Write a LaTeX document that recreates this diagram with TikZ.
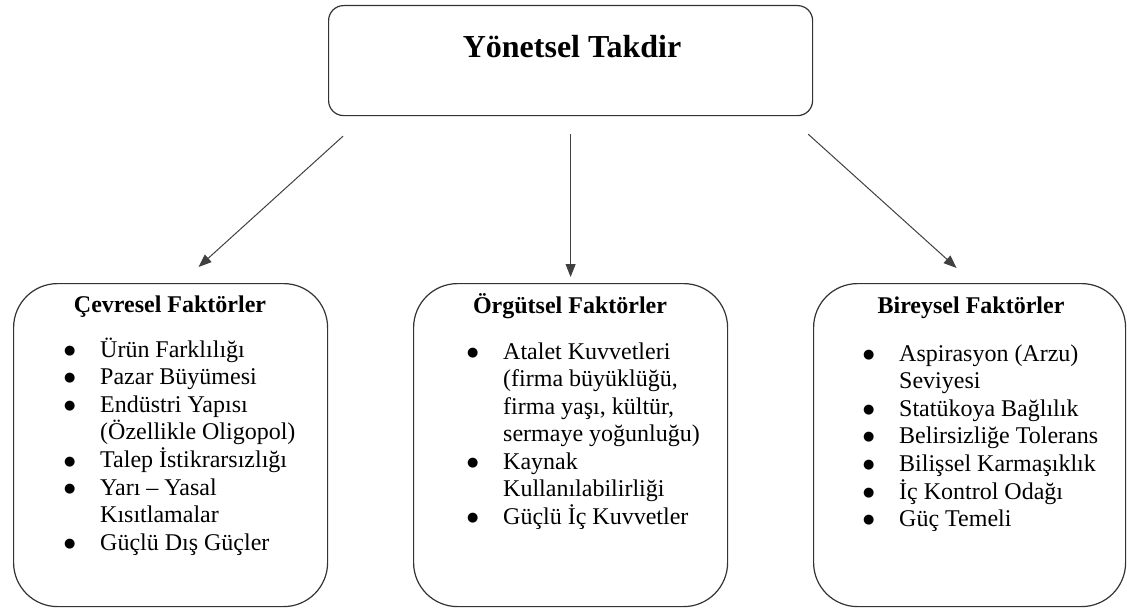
\documentclass[tikz,border=0pt]{standalone}
\usepackage{fontspec}
\setmainfont{Liberation Serif}
\newfontfamily\dvfont{DejaVu Sans}
\usetikzlibrary{arrows.meta}
\newcommand{\bul}{\raisebox{2.6pt}{\dvfont\fontsize{13}{13}\selectfont ●}}
\begin{document}
\begin{tikzpicture}[x=1pt,y=-1pt,
  bigbox/.style={draw=black!80, line width=1.2pt, rounded corners=44pt, minimum width=314pt, minimum height=323pt, anchor=north west, inner sep=0pt},
  topbox/.style={draw=black!80, line width=1.2pt, rounded corners=15pt, minimum width=484pt, minimum height=110pt, anchor=north west, inner sep=0pt},
  hdr/.style={font=\bfseries\fontsize{24}{27.5}\selectfont, anchor=base, inner sep=0pt},
  lst/.style={font=\fontsize{24}{27.5}\selectfont, anchor=base west, inner sep=0pt},
  arr/.style={draw=black!75, line width=1pt, -{Triangle[length=13pt,width=10pt]}}
]
\useasboundingbox (0,0) rectangle (1127,610);

\node[topbox] (top) at (328,5) {};
\node[font=\bfseries\fontsize{32}{38}\selectfont, anchor=base, inner sep=0pt] (title) at (572,58) {Yönetsel Takdir};

\node[bigbox] (cev) at (13,283) {};
\node[bigbox] (org) at (413,283) {};
\node[bigbox, minimum width=312pt] (bir) at (813,283) {};

\node[hdr] (h1) at (170,312) {Çevresel Faktörler};
\node[hdr] (h2) at (570,313) {Örgütsel Faktörler};
\node[hdr] (h3) at (971,313) {Bireysel Faktörler};

\node[lst] (l1) at (64,357) {\begin{tabular}[t]{@{}p{36pt}@{}l@{}}
\bul & Ürün Farklılığı\\
\bul & Pazar Büyümesi\\
\bul & Endüstri Yapısı\\
 & (Özellikle Oligopol)\\
\bul & Talep İstikrarsızlığı\\
\bul & Yarı – Yasal\\
 & Kısıtlamalar\\
\bul & Güçlü Dış Güçler
\end{tabular}};

\node[lst] (l2) at (467,359) {\begin{tabular}[t]{@{}p{36pt}@{}l@{}}
\bul & Atalet Kuvvetleri\\
 & (firma büyüklüğü,\\
 & firma yaşı, kültür,\\
 & sermaye yoğunluğu)\\
\bul & Kaynak\\
 & Kullanılabilirliği\\
\bul & Güçlü İç Kuvvetler
\end{tabular}};

\node[lst] (l3) at (863,361) {\begin{tabular}[t]{@{}p{36pt}@{}l@{}}
\bul & Aspirasyon (Arzu)\\
 & Seviyesi\\
\bul & Statükoya Bağlılık\\
\bul & Belirsizliğe Tolerans\\
\bul & Bilişsel Karmaşıklık\\
\bul & İç Kontrol Odağı\\
\bul & Güç Temeli
\end{tabular}};

\coordinate (s1) at ([xshift=15pt,yshift=-20pt]top.south west);
\coordinate (e1) at ([xshift=28pt,yshift=16pt]cev.north);
\coordinate (s2) at ([yshift=-18pt]top.south);
\coordinate (e2) at ([yshift=6pt]org.north);
\coordinate (s3) at ([xshift=-5pt,yshift=-18pt]top.south east);
\coordinate (e3) at ([xshift=-13pt,yshift=15pt]bir.north);

\draw[arr] (s1) -- (e1);
\draw[arr] (s2) -- (e2);
\draw[arr] (s3) -- (e3);
\end{tikzpicture}
\end{document}
